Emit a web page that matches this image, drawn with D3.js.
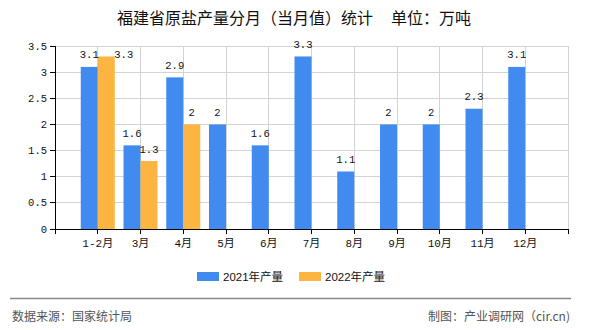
<!DOCTYPE html>
<html><head><meta charset="utf-8">
<script src="https://cdn.jsdelivr.net/npm/d3@7"></script>
<style>body{margin:0;background:#fff;}svg{display:block;}</style>
</head><body>
<svg id="c" width="590" height="330"></svg>
<script>
const categories = ["1-2月","3月","4月","5月","6月","7月","8月","9月","10月","11月","12月"];
const seriesNames = ["2021年产量","2022年产量"];
const values2021 = [3.1,1.6,2.9,2,1.6,3.3,1.1,2,2,2.3,3.1];
const values2022 = [3.3,1.3,2,null,null,null,null,null,null,null,null];
const yTicks = [0,0.5,1,1.5,2,2.5,3,3.5];
const colors = ["#418bf0","#fdb541"];

const svg = d3.select("#c");
const L = 55, R = 568, T = 46, B = 229;
const step = (R - L) / 12;
const x = d3.scalePoint().domain(categories).range([L + step, R - step]);
const xs = d3.scaleBand().domain(seriesNames).range([-17, 17]).padding(0);
const y = d3.scaleLinear().domain([0, 3.5]).range([B, T]);
const monoFont = "'Liberation Mono','Noto Sans CJK SC',monospace";
const cjk = "'Noto Sans CJK SC','Liberation Sans',sans-serif";

// title
const title = svg.append("text").attr("x", 117).attr("y", 24)
  .attr("font-family", cjk).attr("font-size", 16).attr("fill", "#111");
title.append("tspan").text("福建省原盐产量分月（当月值）统计 ");
title.append("tspan").attr("x", 391).text("单位：万吨");

// grid
const g = svg.append("g");
g.selectAll("line.h").data(yTicks.filter(d => d > 0)).join("line")
  .attr("x1", L).attr("x2", R).attr("y1", d => y(d)).attr("y2", d => y(d))
  .attr("stroke", "#d3d3d3").attr("stroke-width", 1).attr("shape-rendering","crispEdges");
g.selectAll("line.v").data(categories.map(c => x(c)).concat([R])).join("line")
  .attr("x1", d => d).attr("x2", d => d).attr("y1", T).attr("y2", B)
  .attr("stroke", "#d3d3d3").attr("stroke-width", 1).attr("shape-rendering","crispEdges");

// bars
const data = [];
categories.forEach((c, i) => {
  data.push({c, s: seriesNames[0], v: values2021[i], k: 0, i});
  if (values2022[i] != null) data.push({c, s: seriesNames[1], v: values2022[i], k: 1, i});
});
svg.append("g").selectAll("rect").data(data).join("rect")
  .attr("x", d => x(d.c) + xs(d.s)).attr("width", xs.bandwidth())
  .attr("y", d => y(d.v)).attr("height", d => y(0) - y(d.v))
  .attr("fill", d => colors[d.k]);

// value labels
svg.append("g").selectAll("text").data(data).join("text")
  .attr("font-family", monoFont).attr("font-size", 10.5).attr("fill", "#111")
  .attr("text-anchor", "middle")
  .each(function(d) {
    const cx = x(d.c) + xs(d.s) + xs.bandwidth() / 2;
    let tx = cx, ty = y(d.v) - 8.5;
    // label of a tall second-series bar is moved beside the bar top
    if (d.k === 1 && ty - 8 < T) { tx = cx + xs.bandwidth() + 0.5; ty = y(d.v) + 2; }
    d3.select(this).attr("x", tx).attr("y", ty);
  })
  .text(d => d.v);

// axes
svg.append("line").attr("x1", L).attr("x2", L).attr("y1", T).attr("y2", B)
  .attr("stroke", "#000").attr("shape-rendering","crispEdges");
svg.append("line").attr("x1", L - 5).attr("x2", R).attr("y1", B).attr("y2", B)
  .attr("stroke", "#000").attr("shape-rendering","crispEdges");
svg.append("g").selectAll("line").data(yTicks).join("line")
  .attr("x1", L - 5).attr("x2", L).attr("y1", d => y(d)).attr("y2", d => y(d))
  .attr("stroke", "#000").attr("shape-rendering","crispEdges");
svg.append("g").selectAll("text").data(yTicks).join("text")
  .attr("x", L - 8).attr("y", d => y(d) + 3.5).attr("text-anchor", "end")
  .attr("font-family", monoFont).attr("font-size", 10.5).attr("fill", "#111")
  .text(d => d);
svg.append("g").selectAll("line").data([L].concat(categories.map(c => x(c))).concat([R])).join("line")
  .attr("x1", d => d).attr("x2", d => d).attr("y1", B).attr("y2", B + 5)
  .attr("stroke", "#000").attr("shape-rendering","crispEdges");
svg.append("g").selectAll("text").data(categories).join("text")
  .attr("x", d => x(d)).attr("y", 246.5).attr("text-anchor", "middle")
  .attr("font-family", monoFont).attr("font-size", 11).attr("fill", "#111")
  .text(d => d);

// legend
const legX = [197, 299];
const lg = svg.append("g").selectAll("g").data(seriesNames).join("g");
lg.append("rect").attr("x", (d, i) => legX[i]).attr("y", 272).attr("width", 22).attr("height", 9)
  .attr("fill", (d, i) => colors[i]);
lg.append("text").attr("x", (d, i) => legX[i] + 26).attr("y", 281)
  .attr("font-family", "'Liberation Sans','Noto Sans CJK SC',sans-serif").attr("font-size", 11.5).attr("fill", "#111")
  .text(d => d);

// footer
svg.append("line").attr("x1", 10).attr("x2", 571).attr("y1", 298.5).attr("y2", 298.5)
  .attr("stroke", "#888").attr("stroke-width", 1.5);
svg.append("text").attr("x", 12).attr("y", 321).attr("font-family", cjk).attr("font-size", 12)
  .attr("fill", "#555").text("数据来源：国家统计局");
svg.append("text").attr("x", 570).attr("y", 321).attr("text-anchor", "end").attr("font-family", cjk).attr("font-size", 12)
  .attr("fill", "#555").text("制图：产业调研网（cir.cn)");
</script>
</body></html>
